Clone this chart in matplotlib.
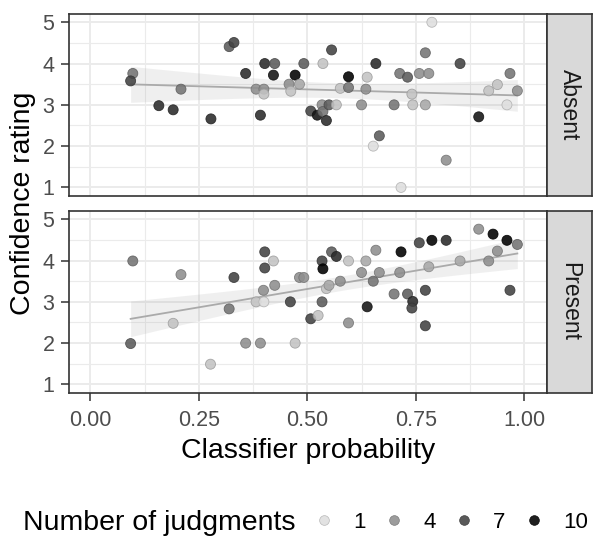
import numpy as np
import matplotlib
matplotlib.use("Agg")
import matplotlib.pyplot as plt
from matplotlib.lines import Line2D

plt.rcParams['font.family'] = ['Liberation Sans', 'DejaVu Sans']

# ---------------- data ----------------
absent_x = [0.098, 0.093, 0.158, 0.191, 0.209, 0.278, 0.320, 0.331, 0.358, 0.382,
            0.400, 0.400, 0.392, 0.402, 0.425, 0.422, 0.472, 0.458, 0.462, 0.482,
            0.492, 0.508, 0.523, 0.534, 0.536, 0.544, 0.550, 0.567, 0.536, 0.556,
            0.576, 0.595, 0.595, 0.625, 0.635, 0.638, 0.658, 0.666, 0.652, 0.700,
            0.713, 0.716, 0.731, 0.741, 0.743, 0.758, 0.772, 0.772, 0.780, 0.787,
            0.820, 0.852, 0.895, 0.918, 0.938, 0.960, 0.967, 0.984]
absent_y = [3.76, 3.58, 2.98, 2.88, 3.38, 2.66, 4.41, 4.51, 3.76, 3.38,
            3.38, 3.26, 2.75, 4.00, 4.00, 3.72, 3.72, 3.50, 3.33, 3.50,
            4.00, 2.85, 2.75, 3.00, 2.84, 2.62, 3.00, 3.00, 4.00, 4.33,
            3.40, 3.68, 3.42, 3.00, 3.38, 3.67, 4.00, 2.25, 2.00, 3.00,
            3.76, 1.00, 3.67, 3.26, 3.00, 3.76, 4.26, 3.00, 3.76, 5.00,
            1.66, 4.00, 2.71, 3.34, 3.49, 3.00, 3.76, 3.34]
absent_n = [5, 7, 8, 8, 5, 8, 6, 7, 8, 4,
            4, 2, 8, 8, 6, 9, 10, 4, 2, 3,
            6, 7, 9, 4, 5, 8, 6, 2, 2, 7,
            2, 10, 5, 4, 4, 2, 8, 6, 1, 5,
            5, 1, 6, 2, 2, 4, 5, 3, 4, 1,
            4, 7, 9, 2, 2, 1, 5, 4]

present_x = [0.098, 0.093, 0.191, 0.209, 0.277, 0.320, 0.331, 0.358, 0.382, 0.392,
             0.399, 0.402, 0.402, 0.400, 0.422, 0.425, 0.461, 0.472, 0.482, 0.492,
             0.508, 0.525, 0.534, 0.534, 0.536, 0.544, 0.550, 0.556, 0.567, 0.576,
             0.595, 0.595, 0.625, 0.635, 0.638, 0.652, 0.658, 0.666, 0.700, 0.713,
             0.716, 0.731, 0.743, 0.741, 0.758, 0.772, 0.772, 0.780, 0.787, 0.820,
             0.852, 0.895, 0.918, 0.928, 0.938, 0.960, 0.967, 0.984]
present_y = [3.99, 1.99, 2.48, 3.66, 1.49, 2.83, 3.59, 2.00, 3.00, 2.00,
             3.28, 4.21, 3.82, 3.00, 3.99, 3.40, 3.00, 2.00, 3.59, 3.59,
             2.59, 2.67, 3.99, 3.00, 3.80, 3.32, 3.40, 4.21, 4.10, 3.50,
             3.99, 2.49, 3.71, 3.99, 2.88, 3.50, 4.25, 3.71, 3.19, 3.71,
             4.21, 3.19, 3.01, 2.85, 4.43, 3.28, 2.42, 3.85, 4.49, 4.49,
             3.99, 4.76, 3.99, 4.64, 4.23, 4.49, 3.28, 4.39]
present_n = [5, 6, 2, 4, 2, 5, 7, 4, 2, 4,
             4, 7, 7, 1, 2, 4, 7, 2, 4, 4,
             7, 2, 7, 6, 10, 2, 3, 6, 8, 4,
             2, 4, 4, 3, 9, 5, 4, 4, 5, 4,
             10, 6, 8, 7, 7, 7, 7, 3, 10, 8,
             3, 4, 4, 10, 4, 10, 7, 5]

panel_labels = ["Absent", "Present"]
x_ticks = [0.00, 0.25, 0.50, 0.75, 1.00]
x_ticklabels = ["0.00", "0.25", "0.50", "0.75", "1.00"]
y_ticks = [1, 2, 3, 4, 5]
legend_values = [1, 4, 7, 10]

# ---------------- style helpers ----------------
ALPHA = 0.88

def gray_of(n):
    t = (10 - np.asarray(n, dtype=float)) / 9.0
    g = 0.87 * t ** 1.1
    return np.stack([g, g, g], axis=-1)

W, H = 594, 538
fig = plt.figure(figsize=(W / 100, H / 100), dpi=100)

def fbox(l, t, r, b):
    return [l / W, 1 - b / H, (r - l) / W, (b - t) / H]

panels = [
    (absent_x, absent_y, absent_n, 14, 195.7),
    (present_x, present_y, present_n, 211, 392.7),
]

GRID = '#ebebeb'
BORDER = '#333333'

for i, (px, py, pn, top, bot) in enumerate(panels):
    ax = fig.add_axes(fbox(69, top, 547.3, bot))
    ax.set_xlim(-0.049, 1.053)
    ax.set_ylim(0.8, 5.2)
    ax.set_xticks(x_ticks)
    ax.set_xticks([0.125, 0.375, 0.625, 0.875], minor=True)
    ax.set_yticks(y_ticks)
    ax.set_yticks([1.5, 2.5, 3.5, 4.5], minor=True)
    ax.grid(True, which='major', color=GRID, linewidth=1.4, zorder=0)
    ax.grid(True, which='minor', color=GRID, linewidth=0.8, zorder=0)
    ax.set_axisbelow(True)
    for s in ax.spines.values():
        s.set_color(BORDER)
        s.set_linewidth(1.2)
    ax.tick_params(which='minor', length=0)
    ax.tick_params(which='major', length=5.5, width=1.1, color=BORDER,
                   labelsize=15.5, labelcolor='#4d4d4d', pad=5)
    if i == 0:
        ax.tick_params(axis='x', labelbottom=False, length=0)
    else:
        ax.set_xticklabels(x_ticklabels)
        ax.tick_params(axis='x', pad=7)

    # linear fit with 95% CI (geom_smooth method = "lm")
    xa = np.asarray(px); ya = np.asarray(py)
    nobs = len(xa)
    b1, b0 = np.polyfit(xa, ya, 1)
    resid = ya - (b0 + b1 * xa)
    s2 = np.sum(resid ** 2) / (nobs - 2)
    xm = xa.mean(); sxx = np.sum((xa - xm) ** 2)
    xs = np.linspace(xa.min(), xa.max(), 80)
    fit = b0 + b1 * xs
    se = np.sqrt(s2 * (1.0 / nobs + (xs - xm) ** 2 / sxx))
    tq = 2.003
    ax.fill_between(xs, fit - tq * se, fit + tq * se, color='#999999', alpha=0.15,
                    linewidth=0, zorder=1)
    ax.plot(xs, fit, color='#aaaaaa', linewidth=1.3, zorder=2)

    cols = gray_of(pn)
    ax.scatter(px, py, s=52, c=cols, alpha=ALPHA, edgecolors=cols * 0.8,
               linewidths=0.6, zorder=3)

    # facet strip
    sax = fig.add_axes(fbox(547.3, top, 592, bot))
    sax.set_facecolor('#d9d9d9')
    sax.set_xticks([]); sax.set_yticks([])
    for s in sax.spines.values():
        s.set_color(BORDER)
        s.set_linewidth(1.2)
    sax.text(0.5, 0.5, panel_labels[i], rotation=-90, ha='center', va='center',
             fontsize=16.5, color='#1a1a1a', transform=sax.transAxes)

# axis titles
fig.text(23 / W, 1 - 203 / H, "Confidence rating", rotation=90, ha='center', va='center',
         fontsize=20.5, color='black')
fig.text(308 / W, 1 - 458 / H, "Classifier probability", ha='center', va='baseline',
         fontsize=20.5, color='black')

# legend
fig.text(23 / W, 1 - 522.5 / H, "Number of judgments", ha='left', va='center',
         fontsize=20.5, color='black')
lc = gray_of(legend_values)
handles = [Line2D([], [], linestyle='none', marker='o', markersize=7.0,
                  markerfacecolor=lc[k], markeredgecolor=lc[k] * 0.8,
                  markeredgewidth=0.5, alpha=ALPHA)
           for k in range(len(legend_values))]
fig.legend(handles, [str(v) for v in legend_values], ncol=4, frameon=False,
           loc='center left', bbox_to_anchor=(315 / W, 1 - 522.5 / H),
           fontsize=16, handlelength=0.8, handletextpad=0.9, columnspacing=0.9,
           borderpad=0, borderaxespad=0)

fig.savefig("out.png", dpi=100)
